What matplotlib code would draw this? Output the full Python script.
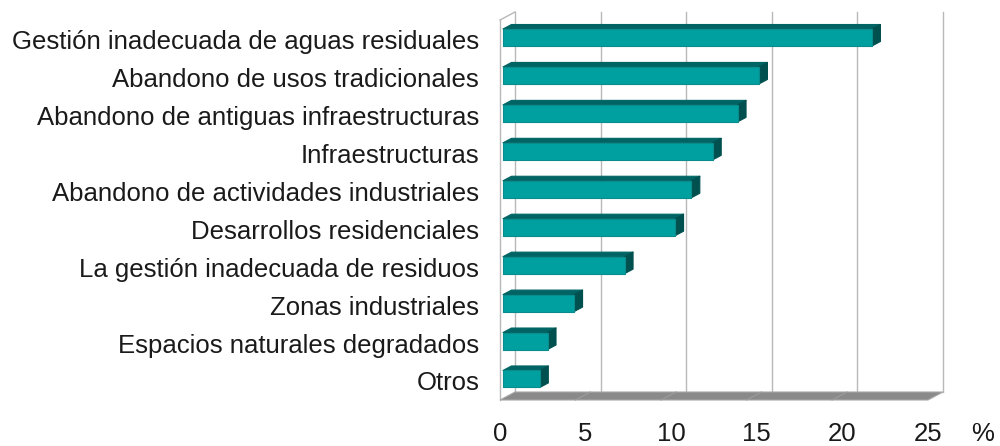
import matplotlib.pyplot as plt
from matplotlib.patches import Polygon
import matplotlib.transforms as mtransforms

plt.rcParams['font.family'] = ['Liberation Sans', 'DejaVu Sans']

# datos (%)
categorias = [
    "Gestión inadecuada de aguas residuales",
    "Abandono de usos tradicionales",
    "Abandono de antiguas infraestructuras",
    "Infraestructuras",
    "Abandono de actividades industriales",
    "Desarrollos residenciales",
    "La gestión inadecuada de residuos",
    "Zonas industriales",
    "Espacios naturales degradados",
    "Otros",
]
valores = [21.55, 14.95, 13.7, 12.25, 11.0, 10.05, 7.1, 4.15, 2.6, 2.15]
ticks_x = [0, 5, 10, 15, 20, 25]

# geometría (píxeles de la figura)
W, H = 1000, 446
ax_left, ax_right = 500, 928
ax_top, ax_bottom = 20, 400
y_first, y_step = 37.5, 37.94
ymin = -(y_first - ax_top) / y_step
ymax = (ax_bottom - y_first) / y_step
px_x = 25 / (ax_right - ax_left)
px_y = (ymax - ymin) / (ax_bottom - ax_top)

depth_x, depth_y = 15, 8       # profundidad del fondo
bar_dx, bar_dy = 8.5, 4.5      # profundidad de las barras
bar_h = 17 * px_y
bar_x0 = 3 * px_x

col_front = '#00a0a0'
col_top = '#006464'
col_side = '#005050'
col_grid = '#b8b8b8'

fig = plt.figure(figsize=(W / 100, H / 100), dpi=100)
ax = fig.add_axes([ax_left / W, 1 - ax_bottom / H,
                   (ax_right - ax_left) / W, (ax_bottom - ax_top) / H])
ax.set_xlim(0, 25)
ax.set_ylim(ymax, ymin)
for s in ax.spines.values():
    s.set_visible(False)

dX = depth_x * px_x
dY = depth_y * px_y

# paredes y rejilla del fondo
for t in ticks_x:
    ax.plot([t + dX, t + dX], [ymax - dY, ymin - dY], color=col_grid, lw=1,
            zorder=1, clip_on=False)
ax.plot([0, 0], [ymax, ymin], color=col_grid, lw=1, zorder=1, clip_on=False)
ax.plot([0, dX], [ymin, ymin - dY], color=col_grid, lw=1, zorder=1, clip_on=False)

# suelo
suelo = Polygon([[0, ymax], [25, ymax], [25 + dX, ymax - dY], [dX, ymax - dY]],
                closed=True, facecolor='#8a8a8a', edgecolor='#a8a8a8', lw=0.8,
                zorder=2, clip_on=False)
ax.add_patch(suelo)
for t in ticks_x[1:-1]:
    ax.plot([t - 0.6, t + dX - 0.6], [ymax, ymax - dY], color='#9c9c9c', lw=0.8,
            zorder=2, clip_on=False)

# barras 3D
bdx = bar_dx * px_x
bdy = bar_dy * px_y
for i, v in enumerate(valores):
    y0 = i - bar_h / 2
    y1 = i + bar_h / 2
    x0 = bar_x0
    x1 = bar_x0 + v
    top = Polygon([[x0, y0], [x1, y0], [x1 + bdx, y0 - bdy], [x0 + bdx, y0 - bdy]],
                  closed=True, facecolor=col_top, edgecolor=col_top, lw=0.8,
                  joinstyle='round', zorder=3, clip_on=False)
    side = Polygon([[x1, y0], [x1 + bdx, y0 - bdy], [x1 + bdx, y1 - bdy], [x1, y1]],
                   closed=True, facecolor=col_side, edgecolor=col_side, lw=0.8,
                   joinstyle='round', zorder=3, clip_on=False)
    front = Polygon([[x0, y0], [x1, y0], [x1, y1], [x0, y1]],
                    closed=True, facecolor=col_front, edgecolor='#0a8c8c', lw=0.8,
                    joinstyle='round', zorder=4, clip_on=False)
    ax.add_patch(top)
    ax.add_patch(side)
    ax.add_patch(front)

ax.set_yticks(range(len(categorias)))
ax.set_yticklabels(categorias)
ax.set_xticks(ticks_x)
ax.set_xticklabels([str(t) for t in ticks_x])
ax.tick_params(axis='y', length=0, pad=15, labelsize=18.5, labelcolor='#1a1a1a')
ax.tick_params(axis='x', length=0, pad=16, labelsize=18.5, labelcolor='#1a1a1a')
ax.set_facecolor('none')

# etiquetas un poco más abajo que el centro de la barra
shift = mtransforms.ScaledTranslation(0, -2 / 100, fig.dpi_scale_trans)
for lbl in ax.get_yticklabels():
    lbl.set_transform(lbl.get_transform() + shift)

fig.text(983 / W, 1 - 434 / H, '%', ha='center', va='center', fontsize=18.5, color='#1a1a1a')

fig.savefig('out.png', dpi=100)
